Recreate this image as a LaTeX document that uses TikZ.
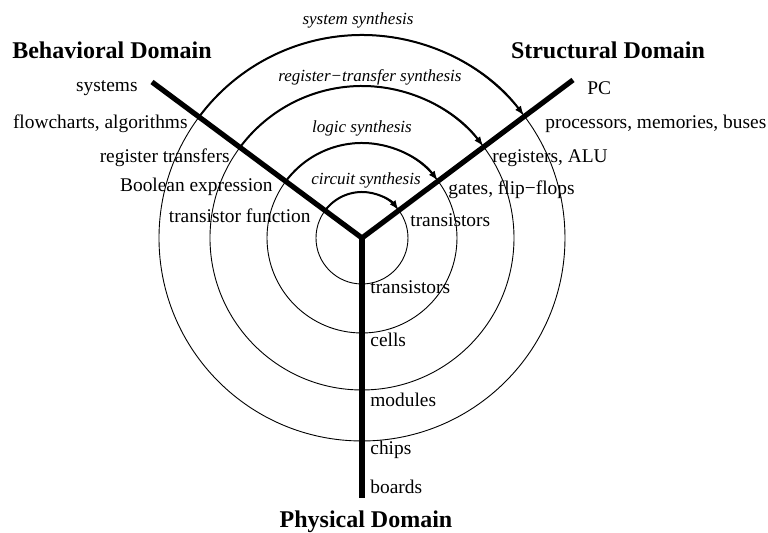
\documentclass[tikz,border=0pt]{standalone}
\usepackage{fontspec}
\setmainfont{Liberation Serif}
\usetikzlibrary{arrows.meta}

\begin{document}
\begin{tikzpicture}[x=0.5pt, y=0.5pt,
	every node/.style={font=\fontsize{9.7}{12}\selectfont, inner sep=1pt},
	domtitle/.style={font=\fontsize{12}{14}\selectfont\bfseries},
	synlabel/.style={font=\fontsize{8.5}{10}\selectfont\itshape},
	arm/.style={line width=2.6pt},
	ring/.style={line width=0.45pt},
	synth/.style={line width=1pt, -{Latex[length=5pt,width=3.6pt]}}]
	\useasboundingbox (-362,-295) rectangle (406,238);
	% centre and the three arms
	\coordinate (C) at (0,0);
	\coordinate (B) at (-210,156);
	\coordinate (S) at (211,158);
	\coordinate (P) at (0,-260);
	% levels
	\foreach \r in {46,95,152,203}{
		\draw[ring] (C) circle (\r);
		\draw[synth] (C) ++(143:\r) arc[start angle=143, end angle=37, radius=\r];
	}
	\draw[arm] (B) -- (C) -- (S);
	\draw[arm] (C) -- (P);
	% synthesis steps
	\node[synlabel] (sys) at (-4,218) {system synthesis};
	\node[synlabel] (rt) at (8,161) {register−transfer synthesis};
	\node[synlabel] (log) at (0,110) {logic synthesis};
	\node[synlabel] (cir) at (4,58) {circuit synthesis};
	% domains
	\node[domtitle] (beh) at (-250,188) {Behavioral Domain};
	\node[domtitle] (str) at (246,188) {Structural Domain};
	\node[domtitle] (phy) at (4,-284) {Physical Domain};
	% behavioral
	\node[anchor=east] (b1) at (-222,150) {systems};
	\node[anchor=east] (b2) at (-172,114) {flowcharts, algorithms};
	\node[anchor=east] (b3) at (-130,80) {register transfers};
	\node[anchor=east] (b4) at (-87,51) {Boolean expression};
	\node[anchor=east] (b5) at (-49,22) {transistor function};
	% structural
	\node[anchor=west] (s1) at (223,150) {PC};
	\node[anchor=west] (s2) at (181,114) {processors, memories, buses};
	\node[anchor=west] (s3) at (128,80) {registers, ALU};
	\node[anchor=west] (s4) at (84,48) {gates, flip−flops};
	\node[anchor=west] (s5) at (46,18) {transistors};
	% physical
	\node[anchor=west] (p1) at (6,-49) {transistors};
	\node[anchor=west] (p2) at (6,-102) {cells};
	\node[anchor=west] (p3) at (6,-162) {modules};
	\node[anchor=west] (p4) at (6,-212) {chips};
	\node[anchor=west] (p5) at (6,-249) {boards};
\end{tikzpicture}
\end{document}
